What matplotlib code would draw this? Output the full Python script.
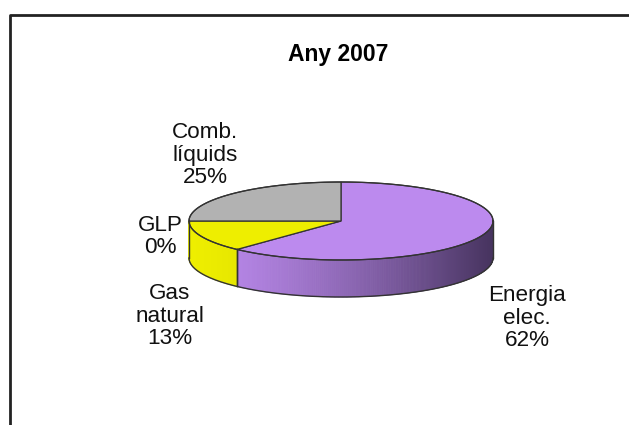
import numpy as np
import matplotlib.pyplot as plt
from matplotlib.patches import Polygon
from matplotlib.collections import PolyCollection

plt.rcParams['font.family'] = ['Liberation Sans', 'DejaVu Sans']

# data
etiquetes = ["Energia\nelec.", "Gas\nnatural", "GLP", "Comb.\nlíquids"]
valors = [62, 13, 0, 25]
colors_top = ["#BC8AEE", "#EEEE00", "#9FB7DE", "#B2B2B2"]
colors_fosc = ["#46335E", "#8A8A00", "#4A5A70", "#555555"]
titol = "Any 2007"

# layout (pixels)
W, H = 629, 425
cx, cy = 341, 221
a, b = 152, 39
d = 37
pos_etiq = [(527, 346), (170, 344), (160, 253), (205, 183)]

fig = plt.figure(figsize=(W / 100, H / 100), dpi=100)
ax = fig.add_axes([0, 0, 1, 1])
ax.set_xlim(0, W)
ax.set_ylim(H, 0)
ax.axis('off')

# marc del grafic (nomes dalt i esquerra visibles)
ax.plot([10, 10, W], [H, 15, 15], color="#222222", lw=2, solid_capstyle='butt')

total = sum(valors)
cum = np.concatenate([[0], np.cumsum(valors)])
t_ini = 90 - 360 * cum[:-1] / total
t_fi = 90 - 360 * cum[1:] / total

def punt(t, baix=0):
    r = np.radians(t)
    return cx + a * np.cos(r), cy - b * np.sin(r) + baix

def mescla(c1, c2, f):
    c1 = np.array(plt.matplotlib.colors.to_rgb(c1))
    c2 = np.array(plt.matplotlib.colors.to_rgb(c2))
    return tuple(c1 * (1 - f) + c2 * f)

vora = "#333333"

# parets laterals (nomes la part frontal)
for i in range(len(valors)):
    hi = min(t_ini[i], 0)
    lo = max(t_fi[i], -180)
    if hi - lo <= 0:
        continue
    ts = np.linspace(hi, lo, max(int((hi - lo) * 2), 2))
    quads, cols = [], []
    for k in range(len(ts) - 1):
        x0, y0 = punt(ts[k])
        x1, y1 = punt(ts[k + 1])
        quads.append([(x0, y0), (x1, y1), (x1, y1 + d), (x0, y0 + d)])
        tm = (ts[k] + ts[k + 1]) / 2
        f = ((np.cos(np.radians(tm)) + 1) / 2) ** 1.4
        cols.append(mescla(colors_top[i], colors_fosc[i], f))
    ax.add_collection(PolyCollection(quads, facecolors=cols, edgecolors=cols, linewidths=0.6))
    # linia vertical a l'inici del tall
    for t in (hi, lo):
        x, y = punt(t)
        ax.plot([x, x], [y, y + d], color=vora, lw=1.0)

# contorn inferior
tb = np.linspace(0, -180, 200)
xb, yb = punt(tb, d)
ax.plot(xb, yb, color=vora, lw=1.0)

# cara superior
for i in range(len(valors)):
    if valors[i] == 0:
        continue
    ts = np.linspace(t_ini[i], t_fi[i], 200)
    xs, ys = punt(ts)
    pts = [(cx, cy)] + list(zip(xs, ys))
    ax.add_patch(Polygon(pts, closed=True, facecolor=colors_top[i], edgecolor=vora, lw=0.9))

tt = np.linspace(0, 360, 300)
xt, yt = punt(tt)
ax.plot(xt, yt, color=vora, lw=0.9)

# etiquetes
for i in range(len(valors)):
    pct = round(100 * valors[i] / total)
    x, y = pos_etiq[i]
    ax.text(x, y, f"{etiquetes[i]}\n{pct}%", ha='center', va='baseline',
            multialignment='center', fontsize=16.2, linespacing=1.08, color="#111111")

ax.text(338, 61, titol, ha='center', va='baseline', fontsize=16.5, fontweight='bold')

fig.savefig("out.png", dpi=100)
